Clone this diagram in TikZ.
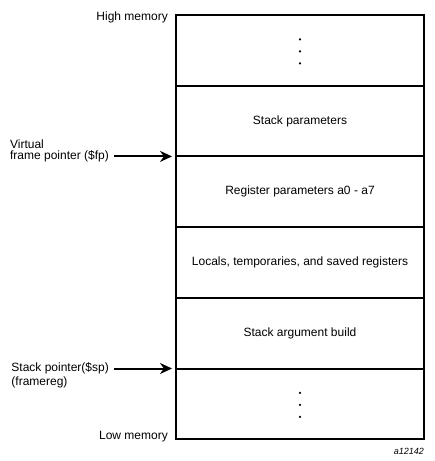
\documentclass[tikz,border=0pt]{standalone}
\usepackage{fontspec}
\setmainfont{Liberation Sans}
\usetikzlibrary{arrows.meta, positioning}

\begin{document}
\begin{tikzpicture}[
x=1pt, y=-1pt,
>={Stealth[length=12pt,width=11pt]},
every node/.style={font=\fontsize{12}{14}\selectfont},
row/.style={draw, line width=2pt, minimum width=248pt, minimum height=70.7pt, inner sep=0pt, outer sep=0pt},
lbl/.style={inner sep=1pt},
ptr/.style={->, line width=2pt, shorten <=4pt, shorten >=4pt},
]
\useasboundingbox (0,0) rectangle (435,461);
\node[row, anchor=north west] (top) at (176,15) {};
\node[row, below=0pt of top] (sparams) {Stack parameters};
\node[row, below=0pt of sparams] (rparams) {Register parameters a0 - a7};
\node[row, below=0pt of rparams] (locals) {Locals, temporaries, and saved registers};
\node[row, below=0pt of locals] (argbuild) {Stack argument build};
\node[row, below=0pt of argbuild] (bottom) {};

\foreach \d in {-11,1,13} {
  \fill (top.center) ++(0,\d) circle (1.2pt);
  \fill (bottom.center) ++(0,\d) circle (1.2pt);
}

\node[lbl, left=7pt of top.north west, yshift=-2pt] (high) {High memory};
\node[lbl, left=7pt of bottom.south west, anchor=base east] (low) {Low memory};

\node[lbl, left=66pt of sparams.south west] (fp) {frame pointer (\$fp)};
\node[lbl, above=0pt of fp.north west, anchor=south west] (virt) {Virtual};
\node[lbl, left=66pt of argbuild.south west] (sp) {Stack pointer(\$sp)};
\node[lbl, below=0pt of sp.south west, anchor=north west] (freg) {(framereg)};

\draw[ptr] (fp) -- (sparams.south west);
\draw[ptr] (sp) -- (argbuild.south west);

\node[font=\itshape\fontsize{9}{10}\selectfont, inner sep=0pt, below=9pt of bottom.south east, anchor=north east] (fig) {a12142};
\end{tikzpicture}
\end{document}
